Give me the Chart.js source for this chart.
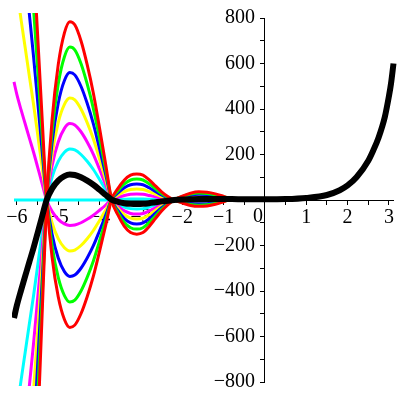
<!DOCTYPE html>
<html>
<head>
<meta charset="utf-8">
<script src="https://cdn.jsdelivr.net/npm/chart.js@4/dist/chart.umd.min.js"></script>
<style>
  body { margin: 0; background: #fff; }
  #wrap { width: 400px; height: 400px; }
</style>
</head>
<body>
<div id="wrap"><canvas id="myChart"></canvas></div>
<script>
// x positions
const xs = [-6.07,-6.0,-5.9,-5.8,-5.7,-5.6,-5.5,-5.4,-5.28,-5.15,-5.0,-4.85,-4.72,-4.6,-4.45,-4.3,-4.15,-4.0,-3.85,-3.71,
            -3.55,-3.4,-3.25,-3.1,-2.95,-2.8,-2.65,-2.5,-2.35,-2.2,-2.0,-1.8,-1.6,-1.4,-1.2,-1.0,-0.8,-0.5,0,
            0.5,1,1.5,1.81,2,2.22,2.5,2.62,2.75,2.9,3.0,3.05,3.11];

// thick black curve
const black = [-519,-463,-397,-335,-273,-212,-146,-79,0,50,85,105,112,110,100,85,67,45,22,2,
               -8,-14,-17,-18,-17,-14,-10,-6,-3,0,2,3,4,4,4,4,4,3,3,
               4,9,22,43,64,101,173,218,275,365,457,512,600];

// coloured pairs (upper / lower branch), x = xs[0..38]
const cyanA = [-1038,-926,-794,-670,-546,-424,-292,-158,0,100,170,210,224,220,200,170,134,90,44,
               2,-18,-31,-38,-40,-38,-31,-22,-13,-6,0,5,8,9,9,8,6,4,3,3];
const cyanB = [0,0,0,0,0,0,0,0,0,0,0,0,0,0,0,0,0,0,0,
               2,2,3,4,4,4,3,2,1,0,0,0,-2,-1,-1,0,2,4,4,3];
const magentaA = [-1557,-1389,-1191,-1005,-819,-636,-438,-237,0,150,255,315,336,330,300,255,201,135,66,
                  2,-28,-48,-59,-62,-59,-48,-34,-20,-9,0,7,12,15,14,12,8,4,2,2];
const magentaB = [519,463,397,335,273,212,146,79,0,-50,-85,-105,-112,-110,-100,-85,-67,-45,-22,
                  2,12,20,25,26,25,20,14,8,3,0,-3,-6,-7,-6,-4,0,4,4,4];
const yellowA = [-2076,-1852,-1588,-1340,-1092,-848,-584,-316,0,200,340,420,448,440,400,340,268,180,88,
                 2,-38,-65,-80,-84,-80,-65,-46,-27,-12,0,10,17,20,19,15,10,4,2,2];
const yellowB = [1038,926,794,670,546,424,292,158,0,-100,-170,-210,-224,-220,-200,-170,-134,-90,-44,
                 2,22,37,46,48,46,37,26,15,6,0,-6,-11,-12,-11,-7,-2,4,5,4];
const blueA = [-2595,-2315,-1985,-1675,-1365,-1060,-730,-395,0,250,425,525,560,550,500,425,335,225,110,
               2,-48,-82,-101,-106,-101,-82,-58,-34,-15,0,12,21,25,24,19,12,4,1,2];
const blueB = [1557,1389,1191,1005,819,636,438,237,0,-150,-255,-315,-336,-330,-300,-255,-201,-135,-66,
               2,32,54,67,70,67,54,38,22,9,0,-8,-15,-17,-16,-11,-4,4,5,4];
const greenA = [-3114,-2778,-2382,-2010,-1638,-1272,-876,-474,0,300,510,630,672,660,600,510,402,270,132,
                2,-58,-99,-122,-128,-122,-99,-70,-41,-18,0,15,26,31,29,23,14,4,1,2];
const greenB = [2076,1852,1588,1340,1092,848,584,316,0,-200,-340,-420,-448,-440,-400,-340,-268,-180,-88,
                2,42,71,88,92,88,71,50,29,12,0,-11,-20,-23,-21,-15,-6,4,6,5];
const redA = [-3633,-3241,-2779,-2345,-1911,-1484,-1022,-553,0,350,595,735,784,770,700,595,469,315,154,
              2,-68,-116,-143,-150,-143,-116,-82,-48,-21,0,17,30,36,34,27,16,4,0,1];
const redB = [2595,2315,1985,1675,1365,1060,730,395,0,-250,-425,-525,-560,-550,-500,-425,-335,-225,-110,
              2,52,88,109,114,109,88,62,36,15,0,-13,-24,-28,-26,-19,-8,4,6,5];

const xTicks = [-6,-5,-4,-3,-2,-1,0,1,2,3];
const yTicks = [-800,-600,-400,-200,200,400,600,800];

const FONT = "'Liberation Serif', 'Times New Roman', serif";

function pts(arr) {
  return arr.map((y, i) => ({ x: xs[i], y: y }));
}

function curve(arr, color, width) {
  return {
    data: pts(arr),
    borderColor: color,
    borderWidth: width,
    pointRadius: 0,
    fill: false,
    cubicInterpolationMode: 'monotone',
    clip: { left: 2, top: 5, right: 4, bottom: 4 }
  };
}

function minus(v) {
  return v < 0 ? '\u2212' + Math.abs(v) : String(v);
}

// "0" at the origin sits a bit left of the y axis, like the original
const zeroLabel = {
  id: 'zeroLabel',
  afterDraw(chart) {
    const ctx = chart.ctx;
    const x = chart.scales.x.getPixelForValue(0);
    const y = chart.scales.y.getPixelForValue(0);
    ctx.save();
    ctx.font = '20px ' + FONT;
    ctx.fillStyle = '#000';
    ctx.textAlign = 'center';
    ctx.textBaseline = 'top';
    ctx.fillText('0', x - 7, y + 7);
    ctx.restore();
  }
};

const datasets = [
  curve(black, '#000000', 6),
  curve(redA, '#ff0000', 3), curve(redB, '#ff0000', 3),
  curve(greenA, '#00ff00', 3), curve(greenB, '#00ff00', 3),
  curve(blueA, '#0000ff', 3), curve(blueB, '#0000ff', 3),
  curve(yellowA, '#ffff00', 3), curve(yellowB, '#ffff00', 3),
  curve(magentaA, '#ff00ff', 3), curve(magentaB, '#ff00ff', 3),
  curve(cyanA, '#00ffff', 3), curve(cyanB, '#00ffff', 3)
];

const config = {
  type: 'line',
  data: { datasets: datasets },
  options: {
    responsive: true,
    maintainAspectRatio: false,
    animation: false,
    layout: { padding: { left: 14, right: 6.5, top: 18, bottom: 18 } },
    plugins: { legend: { display: false }, tooltip: { enabled: false } },
    scales: {
      x: {
        type: 'linear',
        min: -6.07,
        max: 3.11,
        position: { y: 0 },
        afterFit(scale) { scale.height = 0; },
        afterBuildTicks(scale) {
          const t = [];
          for (let v = -6; v <= 3; v += 0.5) t.push({ value: v });
          scale.ticks = t;
        },
        grid: { drawOnChartArea: false, drawTicks: true, tickLength: 4, color: '#000' },
        border: { display: true, color: '#000', width: 1 },
        ticks: {
          autoSkip: false,
          maxRotation: 0,
          padding: 2,
          color: '#000',
          font: { family: FONT, size: 20 },
          callback: (v) => (xTicks.includes(v) && v !== 0) ? minus(v) : ''
        }
      },
      y: {
        type: 'linear',
        min: -800,
        max: 800,
        position: { x: 0 },
        afterFit(scale) { scale.width = 0; },
        afterBuildTicks(scale) {
          const t = [];
          for (let v = -800; v <= 800; v += 100) t.push({ value: v });
          scale.ticks = t;
        },
        grid: { drawOnChartArea: false, drawTicks: true, tickLength: 4, color: '#000' },
        border: { display: true, color: '#000', width: 1 },
        ticks: {
          autoSkip: false,
          padding: 4,
          color: '#000',
          font: { family: FONT, size: 20 },
          // trailing spaces keep the right-aligned labels clear of the axis
          callback: (v) => yTicks.includes(v) ? minus(v) + '  ' : ''
        }
      }
    }
  },
  plugins: [zeroLabel]
};

const myChart = new Chart(document.getElementById('myChart'), config);
</script>
</body>
</html>
